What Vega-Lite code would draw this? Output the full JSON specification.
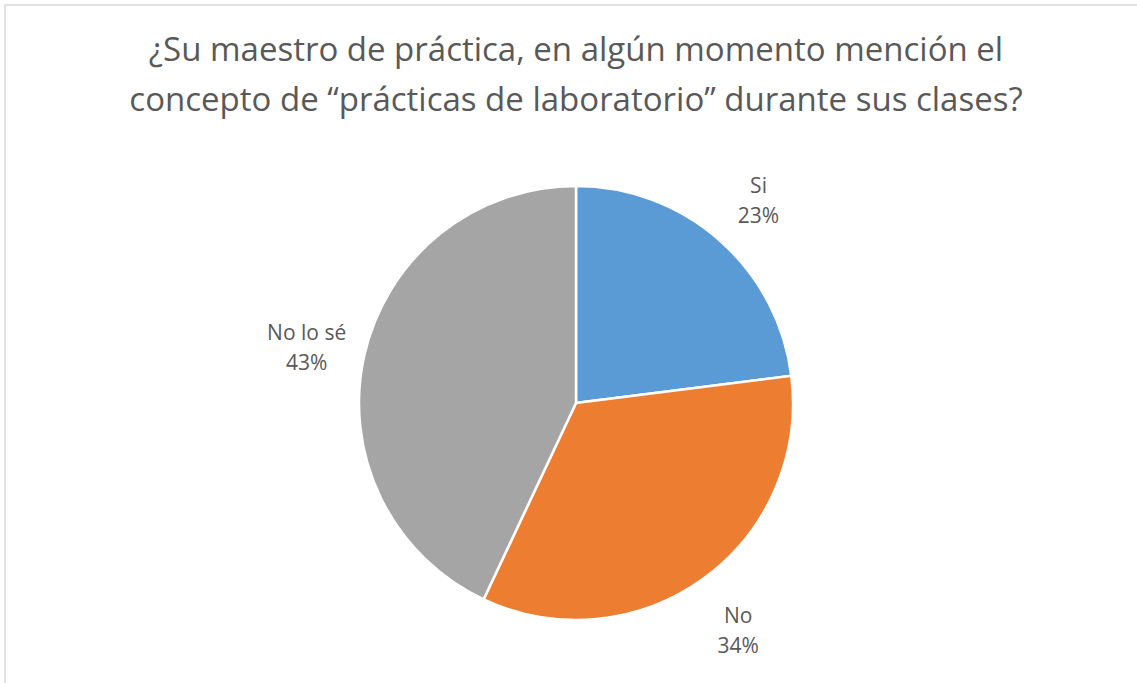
{
  "$schema": "https://vega.github.io/schema/vega-lite/v6.json",
  "autosize": "none",
  "padding": {"left": 5, "top": 5, "right": 0, "bottom": 0},
  "width": 1142,
  "height": 796,
  "background": "white",
  "config": {"view": {"stroke": null}},
  "title": {
    "text": ["¿Su maestro de práctica, en algún momento mención el", "concepto de “prácticas de laboratorio” durante sus clases?"],
    "font": "Open Sans",
    "fontSize": 33,
    "fontWeight": "normal",
    "color": "#595959",
    "anchor": "middle",
    "offset": 0,
    "dy": 114,
    "lineHeight": 50
  },
  "datasets": {
    "respuestas": [
      {"categoria": "Si", "porcentaje": 23, "orden": 1, "etiqueta": "Si\n23%"},
      {"categoria": "No", "porcentaje": 34, "orden": 2, "etiqueta": "No\n34%"},
      {"categoria": "No lo sé", "porcentaje": 43, "orden": 3, "etiqueta": "No lo sé\n43%"}
    ],
    "marco": [{"nombre": "marco"}]
  },
  "layer": [
    {
      "data": {"name": "marco"},
      "mark": {"type": "rect", "fill": null, "stroke": "#d9d9d9", "strokeWidth": 1.5},
      "encoding": {}
    },
    {
      "data": {"name": "respuestas"},
      "mark": {"type": "arc", "outerRadius": 217, "stroke": "white", "strokeWidth": 2.5},
      "encoding": {
        "theta": {"field": "porcentaje", "type": "quantitative", "stack": true},
        "order": {"field": "orden", "type": "quantitative"},
        "color": {
          "field": "categoria",
          "type": "nominal",
          "scale": {"domain": ["Si", "No", "No lo sé"], "range": ["#5B9BD5", "#ED7D31", "#A5A5A5"]},
          "legend": null
        }
      }
    },
    {
      "data": {"name": "respuestas"},
      "mark": {"type": "text", "radius": 276, "dy": -9, "font": "Open Sans", "fontSize": 21, "color": "#595959", "lineBreak": "\n", "lineHeight": 30, "align": "center", "baseline": "middle"},
      "encoding": {
        "theta": {"field": "porcentaje", "type": "quantitative", "stack": true},
        "order": {"field": "orden", "type": "quantitative"},
        "text": {"field": "etiqueta", "type": "nominal"}
      }
    }
  ]
}
